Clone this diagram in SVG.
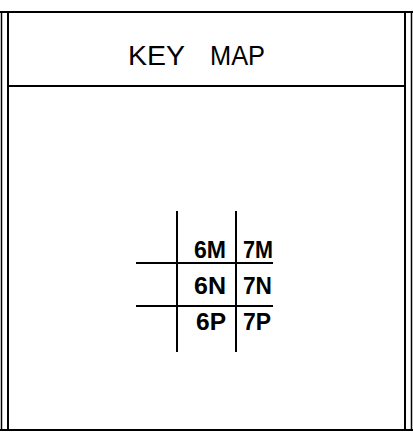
<svg xmlns="http://www.w3.org/2000/svg" width="413" height="439" viewBox="0 0 413 439">
<style>
.ln{stroke:#000;fill:none}
.t{font-family:"Liberation Sans",Arial,sans-serif;font-weight:bold;font-size:23px;fill:#000}
.h{font-family:"Liberation Sans",Arial,sans-serif;font-weight:normal;font-size:28px;fill:#000}
</style>
<rect width="413" height="439" fill="#fff"/>
<g id="frame">
<line class="ln" x1="0" y1="12" x2="413" y2="12" stroke-width="2"/>
<line class="ln" x1="1.5" y1="12" x2="1.5" y2="431" stroke-width="1.5"/>
<line class="ln" x1="8" y1="12" x2="8" y2="431" stroke-width="2"/>
<line class="ln" x1="405" y1="12" x2="405" y2="431" stroke-width="2"/>
<line class="ln" x1="411.5" y1="12" x2="411.5" y2="431" stroke-width="1.5"/>
<line class="ln" x1="0" y1="430" x2="413" y2="430" stroke-width="2"/>
<line class="ln" x1="8" y1="86" x2="405" y2="86" stroke-width="2"/>
</g>
<g id="title">
<text class="h" x="128" y="65" textLength="57" lengthAdjust="spacingAndGlyphs">KEY</text>
<text class="h" x="210" y="65" textLength="55" lengthAdjust="spacingAndGlyphs">MAP</text>
</g>
<g id="grid">
<line class="ln" x1="177" y1="211" x2="177" y2="352" stroke-width="2"/>
<line class="ln" x1="236" y1="211" x2="236" y2="352" stroke-width="2"/>
<line class="ln" x1="136" y1="263" x2="273" y2="263" stroke-width="2"/>
<line class="ln" x1="136" y1="306" x2="273" y2="306" stroke-width="2"/>
</g>
<g id="labels">
<text class="t" x="194" y="258" textLength="32" lengthAdjust="spacingAndGlyphs">6M</text>
<text class="t" x="243" y="258" textLength="30" lengthAdjust="spacingAndGlyphs">7M</text>
<text class="t" x="194" y="294" textLength="32" lengthAdjust="spacingAndGlyphs">6N</text>
<text class="t" x="243" y="294" textLength="29" lengthAdjust="spacingAndGlyphs">7N</text>
<text class="t" x="196" y="330" textLength="30" lengthAdjust="spacingAndGlyphs">6P</text>
<text class="t" x="243" y="330" textLength="28" lengthAdjust="spacingAndGlyphs">7P</text>
</g>
</svg>
